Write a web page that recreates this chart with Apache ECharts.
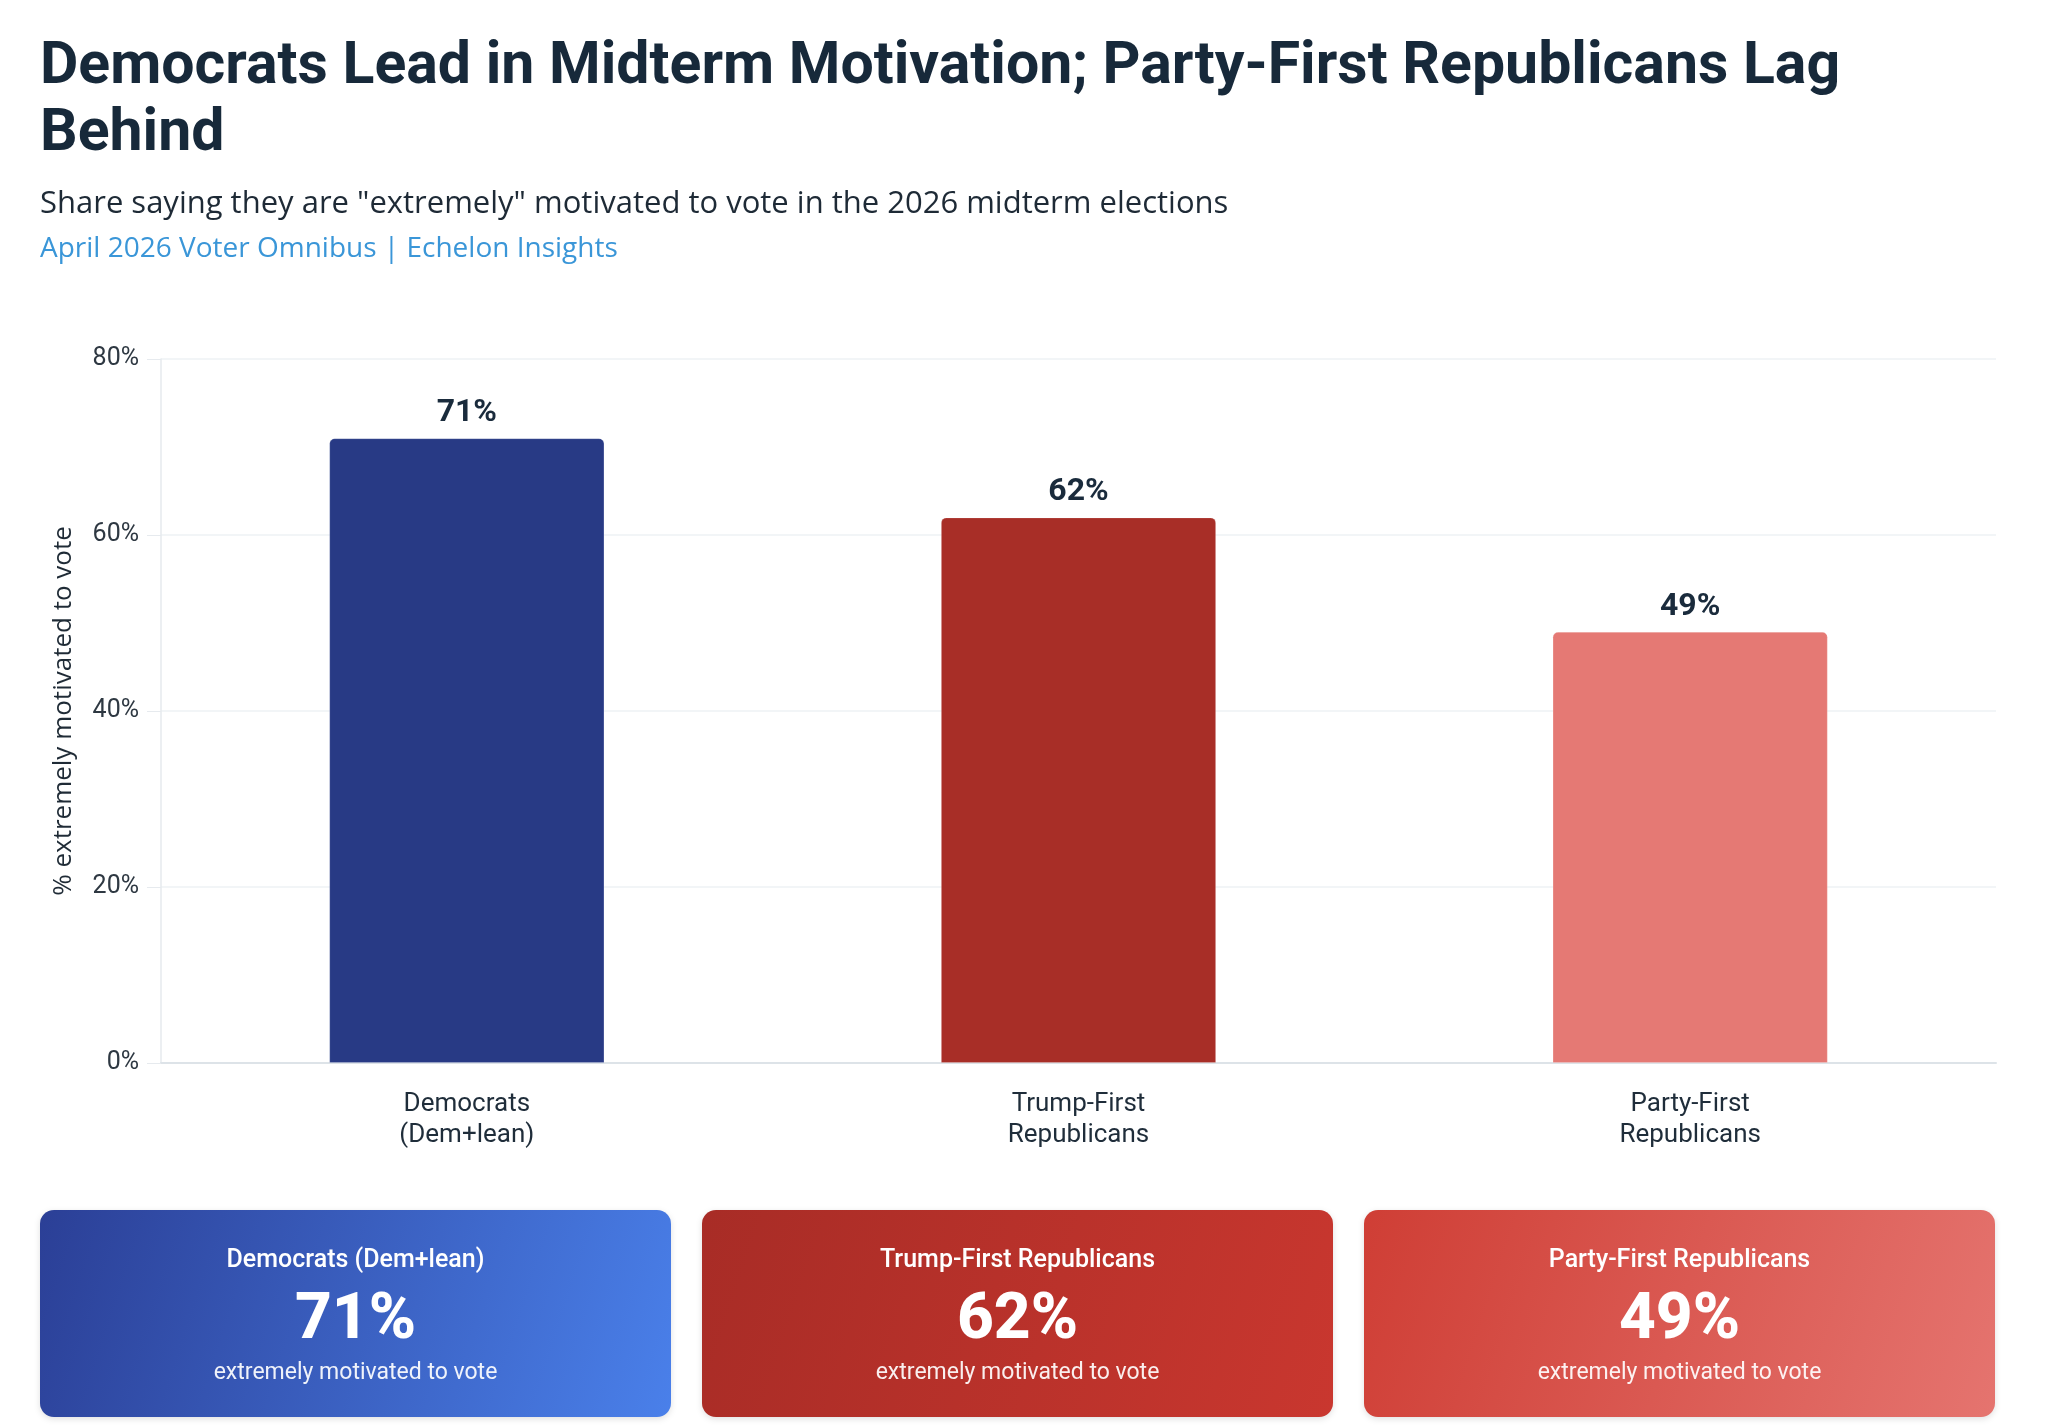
<!DOCTYPE html>
<html>
<head>
<meta charset="utf-8">
<script src="https://cdn.jsdelivr.net/npm/echarts@6/dist/echarts.min.js"></script>
<style>
html,body{margin:0;padding:0;background:#ffffff;}
#chart{width:2048px;height:1425px;}
</style>
</head>
<body>
<div id="chart"></div>
<script>
// ---- data ----
const categories = ['Democrats\n(Dem+lean)', 'Trump-First\nRepublicans', 'Party-First\nRepublicans'];
const cardTitles = ['Democrats (Dem+lean)', 'Trump-First Republicans', 'Party-First Republicans'];
const values = [71, 62, 49];
const yTicks = { min: 0, max: 80, interval: 20 };
const barColors = ['#283a85', '#a82e27', '#e57974'];
const cardGradients = [
  ['#2b3f96', '#4a80ea'],
  ['#a82c26', '#c9372f'],
  ['#cf3e35', '#e5746f']
];
const titleText = 'Democrats Lead in Midterm Motivation; Party-First Republicans Lag\nBehind';
const subtitleText = 'Share saying they are "extremely" motivated to vote in the 2026 midterm elections';
const sourceText = 'April 2026 Voter Omnibus | Echelon Insights';
const yAxisName = '% extremely motivated to vote';
const cardSubText = 'extremely motivated to vote';

// ---- layout ----
const cardLeft = 40, cardRight = 1995, cardGap = 31, cardTop = 1210, cardHeight = 207;
const cardW = (cardRight - cardLeft - 2 * cardGap) / 3;

const cards = values.map(function (v, i) {
  const x = cardLeft + i * (cardW + cardGap);
  return {
    type: 'group',
    x: x,
    y: cardTop,
    children: [
      {
        type: 'rect',
        shape: { x: 0, y: 0, width: cardW, height: cardHeight, r: 14 },
        style: {
          fill: {
            type: 'linear', x: 0, y: 0, x2: 1, y2: 1,
            colorStops: [
              { offset: 0, color: cardGradients[i][0] },
              { offset: 1, color: cardGradients[i][1] }
            ]
          },
          shadowBlur: 6, shadowColor: 'rgba(0,0,0,0.12)', shadowOffsetY: 2
        }
      },
      {
        type: 'text',
        x: cardW / 2, y: 51,
        style: {
          text: cardTitles[i], fill: '#ffffff', align: 'center', verticalAlign: 'middle',
          font: '500 25px Roboto'
        }
      },
      {
        type: 'text',
        x: cardW / 2, y: 112,
        style: {
          text: v + '%', fill: '#ffffff', align: 'center', verticalAlign: 'middle',
          font: '800 64px Roboto'
        }
      },
      {
        type: 'text',
        x: cardW / 2, y: 163,
        style: {
          text: cardSubText, fill: 'rgba(255,255,255,0.92)', align: 'center', verticalAlign: 'middle',
          font: '400 23px Roboto'
        }
      }
    ]
  };
});

const chart = echarts.init(document.getElementById('chart'));
chart.setOption({
  backgroundColor: '#ffffff',
  animation: false,
  title: [
    {
      text: titleText, left: 35, top: 30,
      textStyle: { fontFamily: 'Roboto', fontWeight: 700, fontSize: 59, lineHeight: 67, color: '#17293a' }
    },
    {
      text: subtitleText, left: 35, top: 184,
      textStyle: { fontFamily: 'Open Sans', fontWeight: 400, fontSize: 31, lineHeight: 31, color: '#1e2a36' }
    },
    {
      text: sourceText, left: 35, top: 230,
      textStyle: { fontFamily: 'Open Sans', fontWeight: 400, fontSize: 28, lineHeight: 28, color: '#3a96d8' }
    }
  ],
  grid: { left: 161, right: 52, top: 359, bottom: 362, containLabel: false },
  xAxis: {
    type: 'category',
    data: categories,
    axisLine: { show: true, lineStyle: { color: '#dde3e8', width: 2 } },
    axisTick: { show: false },
    axisLabel: {
      margin: 26, fontFamily: 'Roboto', fontSize: 26, lineHeight: 31, color: '#1f2d3a', fontWeight: 400
    }
  },
  yAxis: {
    type: 'value',
    min: yTicks.min, max: yTicks.max, interval: yTicks.interval,
    name: yAxisName,
    nameLocation: 'middle',
    nameGap: 84,
    nameTextStyle: { fontFamily: 'Open Sans', fontSize: 26, fontWeight: 500, color: '#1f2b36' },
    axisLine: { show: true, lineStyle: { color: '#e6eaee', width: 1.5 } },
    axisTick: { show: true, length: 14, lineStyle: { color: '#e6eaee' } },
    axisLabel: {
      margin: 22, fontFamily: 'Roboto', fontSize: 25, color: '#2e3842',
      formatter: function (v) { return v + '%'; }
    },
    splitLine: { show: true, lineStyle: { color: '#eef2f4', width: 1.5 } }
  },
  series: [{
    type: 'bar',
    barWidth: '45%',
    data: values.map(function (v, i) {
      return {
        value: v,
        itemStyle: {
          color: barColors[i],
          borderRadius: [5, 5, 0, 0],
          borderColor: 'rgba(255,255,255,0.18)',
          borderWidth: 1
        }
      };
    }),
    label: {
      show: true, position: 'top', distance: 9,
      fontFamily: 'Roboto', fontWeight: 700, fontSize: 32, color: '#1a2b3c',
      formatter: function (p) { return p.value + '%'; }
    }
  }],
  graphic: cards
});
</script>
</body>
</html>
